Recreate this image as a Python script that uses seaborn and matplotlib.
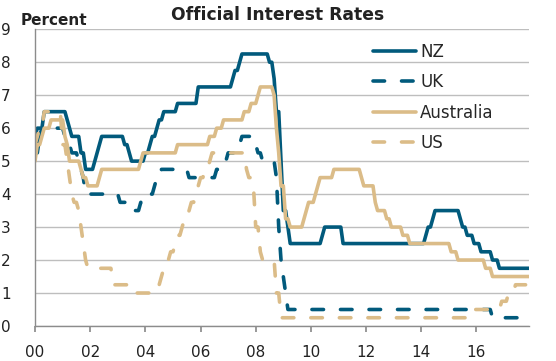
import numpy as np
import pandas as pd
import seaborn as sns
from matplotlib import pyplot as plt

# monthly policy rates, Jan 2000 - Dec 2017 (one row per year)
nz = [
    5.25, 5.25, 5.75, 6.0, 6.5, 6.5, 6.5, 6.5, 6.5, 6.5, 6.5, 6.5,
    6.5, 6.5, 6.25, 6.0, 5.75, 5.75, 5.75, 5.75, 5.25, 5.25, 4.75, 4.75,
    4.75, 4.75, 5.0, 5.25, 5.5, 5.75, 5.75, 5.75, 5.75, 5.75, 5.75, 5.75,
    5.75, 5.75, 5.75, 5.5, 5.5, 5.25, 5.0, 5.0, 5.0, 5.0, 5.0, 5.0,
    5.25, 5.25, 5.5, 5.75, 5.75, 6.0, 6.25, 6.25, 6.5, 6.5, 6.5, 6.5,
    6.5, 6.5, 6.75, 6.75, 6.75, 6.75, 6.75, 6.75, 6.75, 6.75, 6.75, 7.25,
    7.25, 7.25, 7.25, 7.25, 7.25, 7.25, 7.25, 7.25, 7.25, 7.25, 7.25, 7.25,
    7.25, 7.25, 7.5, 7.75, 7.75, 8.0, 8.25, 8.25, 8.25, 8.25, 8.25, 8.25,
    8.25, 8.25, 8.25, 8.25, 8.25, 8.25, 8.0, 8.0, 7.5, 6.5, 6.5, 5.0,
    3.5, 3.5, 3.0, 2.5, 2.5, 2.5, 2.5, 2.5, 2.5, 2.5, 2.5, 2.5,
    2.5, 2.5, 2.5, 2.5, 2.5, 2.75, 3.0, 3.0, 3.0, 3.0, 3.0, 3.0,
    3.0, 3.0, 2.5, 2.5, 2.5, 2.5, 2.5, 2.5, 2.5, 2.5, 2.5, 2.5,
    2.5, 2.5, 2.5, 2.5, 2.5, 2.5, 2.5, 2.5, 2.5, 2.5, 2.5, 2.5,
    2.5, 2.5, 2.5, 2.5, 2.5, 2.5, 2.5, 2.5, 2.5, 2.5, 2.5, 2.5,
    2.5, 2.5, 2.75, 3.0, 3.0, 3.25, 3.5, 3.5, 3.5, 3.5, 3.5, 3.5,
    3.5, 3.5, 3.5, 3.5, 3.5, 3.25, 3.0, 3.0, 2.75, 2.75, 2.75, 2.5,
    2.5, 2.5, 2.25, 2.25, 2.25, 2.25, 2.25, 2.0, 2.0, 2.0, 1.75, 1.75,
    1.75, 1.75, 1.75, 1.75, 1.75, 1.75, 1.75, 1.75, 1.75, 1.75, 1.75, 1.75,
]
uk = [
    5.75, 6.0, 6.0, 6.0, 6.0, 6.0, 6.0, 6.0, 6.0, 6.0, 6.0, 6.0,
    6.0, 5.75, 5.75, 5.5, 5.25, 5.25, 5.25, 5.0, 4.75, 4.5, 4.0, 4.0,
    4.0, 4.0, 4.0, 4.0, 4.0, 4.0, 4.0, 4.0, 4.0, 4.0, 4.0, 4.0,
    4.0, 3.75, 3.75, 3.75, 3.75, 3.75, 3.5, 3.5, 3.5, 3.5, 3.75, 3.75,
    3.75, 4.0, 4.0, 4.0, 4.25, 4.5, 4.5, 4.75, 4.75, 4.75, 4.75, 4.75,
    4.75, 4.75, 4.75, 4.75, 4.75, 4.75, 4.75, 4.5, 4.5, 4.5, 4.5, 4.5,
    4.5, 4.5, 4.5, 4.5, 4.5, 4.5, 4.5, 4.75, 4.75, 4.75, 5.0, 5.0,
    5.25, 5.25, 5.25, 5.25, 5.5, 5.5, 5.75, 5.75, 5.75, 5.75, 5.75, 5.5,
    5.5, 5.25, 5.25, 5.0, 5.0, 5.0, 5.0, 5.0, 5.0, 4.5, 3.0, 2.0,
    1.5, 1.0, 0.5, 0.5, 0.5, 0.5, 0.5, 0.5, 0.5, 0.5, 0.5, 0.5,
    0.5, 0.5, 0.5, 0.5, 0.5, 0.5, 0.5, 0.5, 0.5, 0.5, 0.5, 0.5,
    0.5, 0.5, 0.5, 0.5, 0.5, 0.5, 0.5, 0.5, 0.5, 0.5, 0.5, 0.5,
    0.5, 0.5, 0.5, 0.5, 0.5, 0.5, 0.5, 0.5, 0.5, 0.5, 0.5, 0.5,
    0.5, 0.5, 0.5, 0.5, 0.5, 0.5, 0.5, 0.5, 0.5, 0.5, 0.5, 0.5,
    0.5, 0.5, 0.5, 0.5, 0.5, 0.5, 0.5, 0.5, 0.5, 0.5, 0.5, 0.5,
    0.5, 0.5, 0.5, 0.5, 0.5, 0.5, 0.5, 0.5, 0.5, 0.5, 0.5, 0.5,
    0.5, 0.5, 0.5, 0.5, 0.5, 0.5, 0.5, 0.25, 0.25, 0.25, 0.25, 0.25,
    0.25, 0.25, 0.25, 0.25, 0.25, 0.25, 0.25, 0.25, 0.25, 0.25, 0.25, 0.25,
]
australia = [
    5.0, 5.5, 5.5, 5.75, 6.0, 6.0, 6.0, 6.25, 6.25, 6.25, 6.25, 6.25,
    6.25, 5.75, 5.5, 5.0, 5.0, 5.0, 5.0, 5.0, 4.75, 4.5, 4.5, 4.25,
    4.25, 4.25, 4.25, 4.25, 4.5, 4.75, 4.75, 4.75, 4.75, 4.75, 4.75, 4.75,
    4.75, 4.75, 4.75, 4.75, 4.75, 4.75, 4.75, 4.75, 4.75, 4.75, 5.0, 5.25,
    5.25, 5.25, 5.25, 5.25, 5.25, 5.25, 5.25, 5.25, 5.25, 5.25, 5.25, 5.25,
    5.25, 5.25, 5.5, 5.5, 5.5, 5.5, 5.5, 5.5, 5.5, 5.5, 5.5, 5.5,
    5.5, 5.5, 5.5, 5.5, 5.75, 5.75, 5.75, 6.0, 6.0, 6.0, 6.25, 6.25,
    6.25, 6.25, 6.25, 6.25, 6.25, 6.25, 6.25, 6.5, 6.5, 6.5, 6.75, 6.75,
    6.75, 7.0, 7.25, 7.25, 7.25, 7.25, 7.25, 7.25, 7.0, 6.0, 5.25, 4.25,
    4.25, 3.25, 3.25, 3.0, 3.0, 3.0, 3.0, 3.0, 3.0, 3.25, 3.5, 3.75,
    3.75, 3.75, 4.0, 4.25, 4.5, 4.5, 4.5, 4.5, 4.5, 4.5, 4.75, 4.75,
    4.75, 4.75, 4.75, 4.75, 4.75, 4.75, 4.75, 4.75, 4.75, 4.75, 4.5, 4.25,
    4.25, 4.25, 4.25, 4.25, 3.75, 3.5, 3.5, 3.5, 3.5, 3.25, 3.25, 3.0,
    3.0, 3.0, 3.0, 3.0, 2.75, 2.75, 2.75, 2.5, 2.5, 2.5, 2.5, 2.5,
    2.5, 2.5, 2.5, 2.5, 2.5, 2.5, 2.5, 2.5, 2.5, 2.5, 2.5, 2.5,
    2.5, 2.25, 2.25, 2.25, 2.0, 2.0, 2.0, 2.0, 2.0, 2.0, 2.0, 2.0,
    2.0, 2.0, 2.0, 2.0, 1.75, 1.75, 1.75, 1.5, 1.5, 1.5, 1.5, 1.5,
    1.5, 1.5, 1.5, 1.5, 1.5, 1.5, 1.5, 1.5, 1.5, 1.5, 1.5, 1.5,
]
us = [
    5.5, 5.75, 6.0, 6.0, 6.5, 6.5, 6.5, 6.5, 6.5, 6.5, 6.5, 6.5,
    5.5, 5.5, 5.0, 4.5, 4.0, 3.75, 3.75, 3.5, 3.0, 2.5, 2.0, 1.75,
    1.75, 1.75, 1.75, 1.75, 1.75, 1.75, 1.75, 1.75, 1.75, 1.75, 1.25, 1.25,
    1.25, 1.25, 1.25, 1.25, 1.25, 1.0, 1.0, 1.0, 1.0, 1.0, 1.0, 1.0,
    1.0, 1.0, 1.0, 1.0, 1.0, 1.25, 1.25, 1.5, 1.75, 1.75, 2.0, 2.25,
    2.25, 2.5, 2.75, 2.75, 3.0, 3.25, 3.25, 3.5, 3.75, 3.75, 4.0, 4.25,
    4.5, 4.5, 4.75, 4.75, 5.0, 5.25, 5.25, 5.25, 5.25, 5.25, 5.25, 5.25,
    5.25, 5.25, 5.25, 5.25, 5.25, 5.25, 5.25, 5.25, 4.75, 4.5, 4.5, 4.25,
    3.0, 3.0, 2.25, 2.0, 2.0, 2.0, 2.0, 2.0, 2.0, 1.0, 1.0, 0.25,
    0.25, 0.25, 0.25, 0.25, 0.25, 0.25, 0.25, 0.25, 0.25, 0.25, 0.25, 0.25,
    0.25, 0.25, 0.25, 0.25, 0.25, 0.25, 0.25, 0.25, 0.25, 0.25, 0.25, 0.25,
    0.25, 0.25, 0.25, 0.25, 0.25, 0.25, 0.25, 0.25, 0.25, 0.25, 0.25, 0.25,
    0.25, 0.25, 0.25, 0.25, 0.25, 0.25, 0.25, 0.25, 0.25, 0.25, 0.25, 0.25,
    0.25, 0.25, 0.25, 0.25, 0.25, 0.25, 0.25, 0.25, 0.25, 0.25, 0.25, 0.25,
    0.25, 0.25, 0.25, 0.25, 0.25, 0.25, 0.25, 0.25, 0.25, 0.25, 0.25, 0.25,
    0.25, 0.25, 0.25, 0.25, 0.25, 0.25, 0.25, 0.25, 0.25, 0.25, 0.25, 0.5,
    0.5, 0.5, 0.5, 0.5, 0.5, 0.5, 0.5, 0.5, 0.5, 0.5, 0.5, 0.75,
    0.75, 0.75, 1.0, 1.0, 1.0, 1.25, 1.25, 1.25, 1.25, 1.25, 1.25, 1.25,
]
series_names = ['NZ', 'UK', 'Australia', 'US']
tick_years = [0, 2, 4, 6, 8, 10, 12, 14, 16]
tick_labels = ['00', '02', '04', '06', '08', '10', '12', '14', '16']

dark = '#015A7C'
tan = '#DBBC88'

# years since Jan 2000, monthly
t = np.arange(len(nz)) / 12
df = pd.concat([
    pd.DataFrame({'t': t, 'rate': vals, 'country': name})
    for name, vals in zip(series_names, [nz, uk, australia, us])
], ignore_index=True)

sns.set_theme(style='white')
plt.rcParams['font.family'] = ['DejaVu Sans']
plt.rcParams['lines.dash_capstyle'] = 'round'
plt.rcParams['lines.solid_joinstyle'] = 'round'
plt.rcParams['lines.dash_joinstyle'] = 'round'

fig = plt.figure(figsize=(5.56, 3.61), dpi=100)
ax = fig.add_axes([0.063, 0.097, 0.889, 0.822])

sns.lineplot(data=df, x='t', y='rate', hue='country', style='country',
             hue_order=series_names, style_order=series_names,
             palette={'NZ': dark, 'UK': dark, 'Australia': tan, 'US': tan},
             dashes={'NZ': '', 'UK': (3.2, 4.7), 'Australia': '', 'US': (3.2, 4.7)},
             linewidth=2.6, errorbar=None, ax=ax)

ax.set_xlim(0, t[-1])
ax.set_ylim(0, 9)
ax.set_yticks(range(10))
ax.set_xticks(tick_years)
ax.set_xticklabels(tick_labels)
ax.set_xlabel('')
ax.set_ylabel('')
ax.yaxis.grid(True, color='#BEBEBE', linewidth=1)
ax.set_axisbelow(True)
for s in ['top', 'right']:
    ax.spines[s].set_visible(False)
for s in ['left', 'bottom']:
    ax.spines[s].set_color('#8C8C8C')
    ax.spines[s].set_linewidth(1)
ax.tick_params(axis='x', bottom=True, length=4, color='#8C8C8C', pad=10,
               labelsize=11, labelcolor='#222222')
ax.tick_params(axis='y', left=False, pad=11.5, labelsize=11, labelcolor='#222222')

handles, labels = ax.get_legend_handles_labels()
leg = ax.legend(handles, labels, loc='upper left', bbox_to_anchor=(0.67, 0.977),
                frameon=False, fontsize=12, handlelength=2.6,
                handletextpad=0.25, labelspacing=0.75, borderaxespad=0)
for line in leg.get_lines():
    line.set_linewidth(2.6)

fig.text(0.499, 0.944, 'Official Interest Rates', ha='center', va='baseline',
         fontsize=12.3, fontweight='bold', color='#222222')
fig.text(0.037, 0.932, 'Percent', ha='left', va='baseline',
         fontsize=11, fontweight='bold', color='#222222')

fig.savefig('out.png', dpi=100)
